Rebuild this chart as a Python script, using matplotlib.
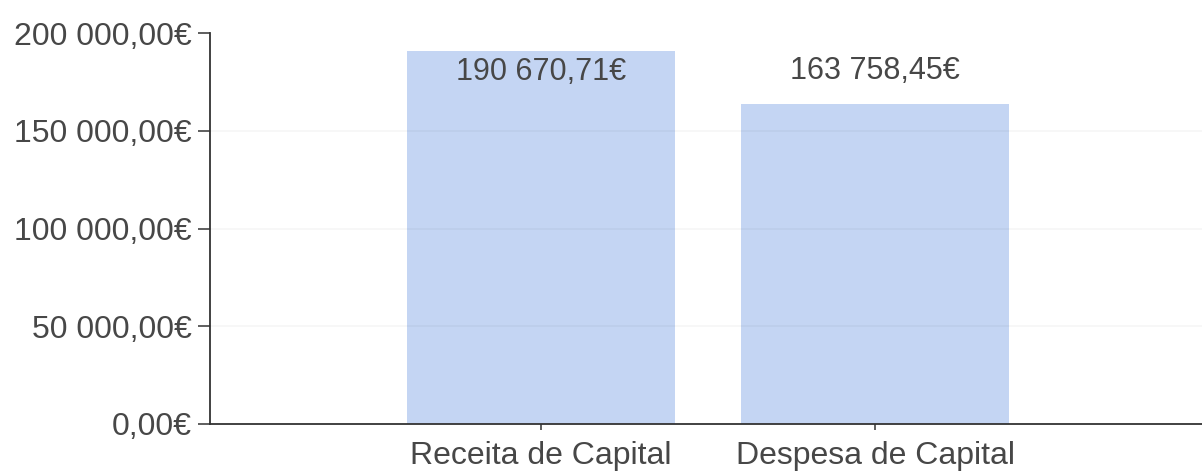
import matplotlib.pyplot as plt
from matplotlib.ticker import FuncFormatter

categories = ['Receita de Capital', 'Despesa de Capital']
values = [190670.71, 163758.45]
yticks = [0, 50000, 100000, 150000, 200000]

plt.rcParams['font.family'] = ['Liberation Sans', 'DejaVu Sans']
txt = '#474747'
axc = '#333333'


def euro(v, pos=None):
    s = '{:,.2f}'.format(v).replace(',', ' ').replace('.', ',')
    return s + '€'


fig = plt.figure(figsize=(12.02, 4.72), dpi=100)
ax = fig.add_axes([0.1747, 0.1017, 0.8253, 0.8283])

x = list(range(len(categories)))
bars = ax.bar(x, values, width=0.8, color='#c4d5f3', zorder=2)

# faint grid lines, only really visible on the bars
for t in yticks[1:-1]:
    ax.axhline(t, color='black', alpha=0.035, lw=1.2, zorder=3)

ax.set_xlim(-0.991, 1.979)
ax.set_ylim(0, 200000)
ax.set_yticks(yticks)
ax.yaxis.set_major_formatter(FuncFormatter(euro))
ax.set_xticks(x)
ax.set_xticklabels(categories)

for s in ['top', 'right']:
    ax.spines[s].set_visible(False)
for s in ['left', 'bottom']:
    ax.spines[s].set_color(axc)
    ax.spines[s].set_linewidth(1.3)

ax.tick_params(axis='y', length=9, width=1.1, color=axc, pad=4,
               labelsize=23, labelcolor=txt)
ax.tick_params(axis='x', length=4, width=1.1, color=axc, pad=8,
               labelsize=23, labelcolor=txt)

# value labels: inside the first bar, above the second
offsets = [-21, 33]
for xi, v, off in zip(x, values, offsets):
    ax.annotate(euro(v), (xi, v), xytext=(0, off * 0.72), textcoords='offset points',
                ha='center', va='center', fontsize=22, color=txt, zorder=4)

fig.savefig('out.png', dpi=100)
